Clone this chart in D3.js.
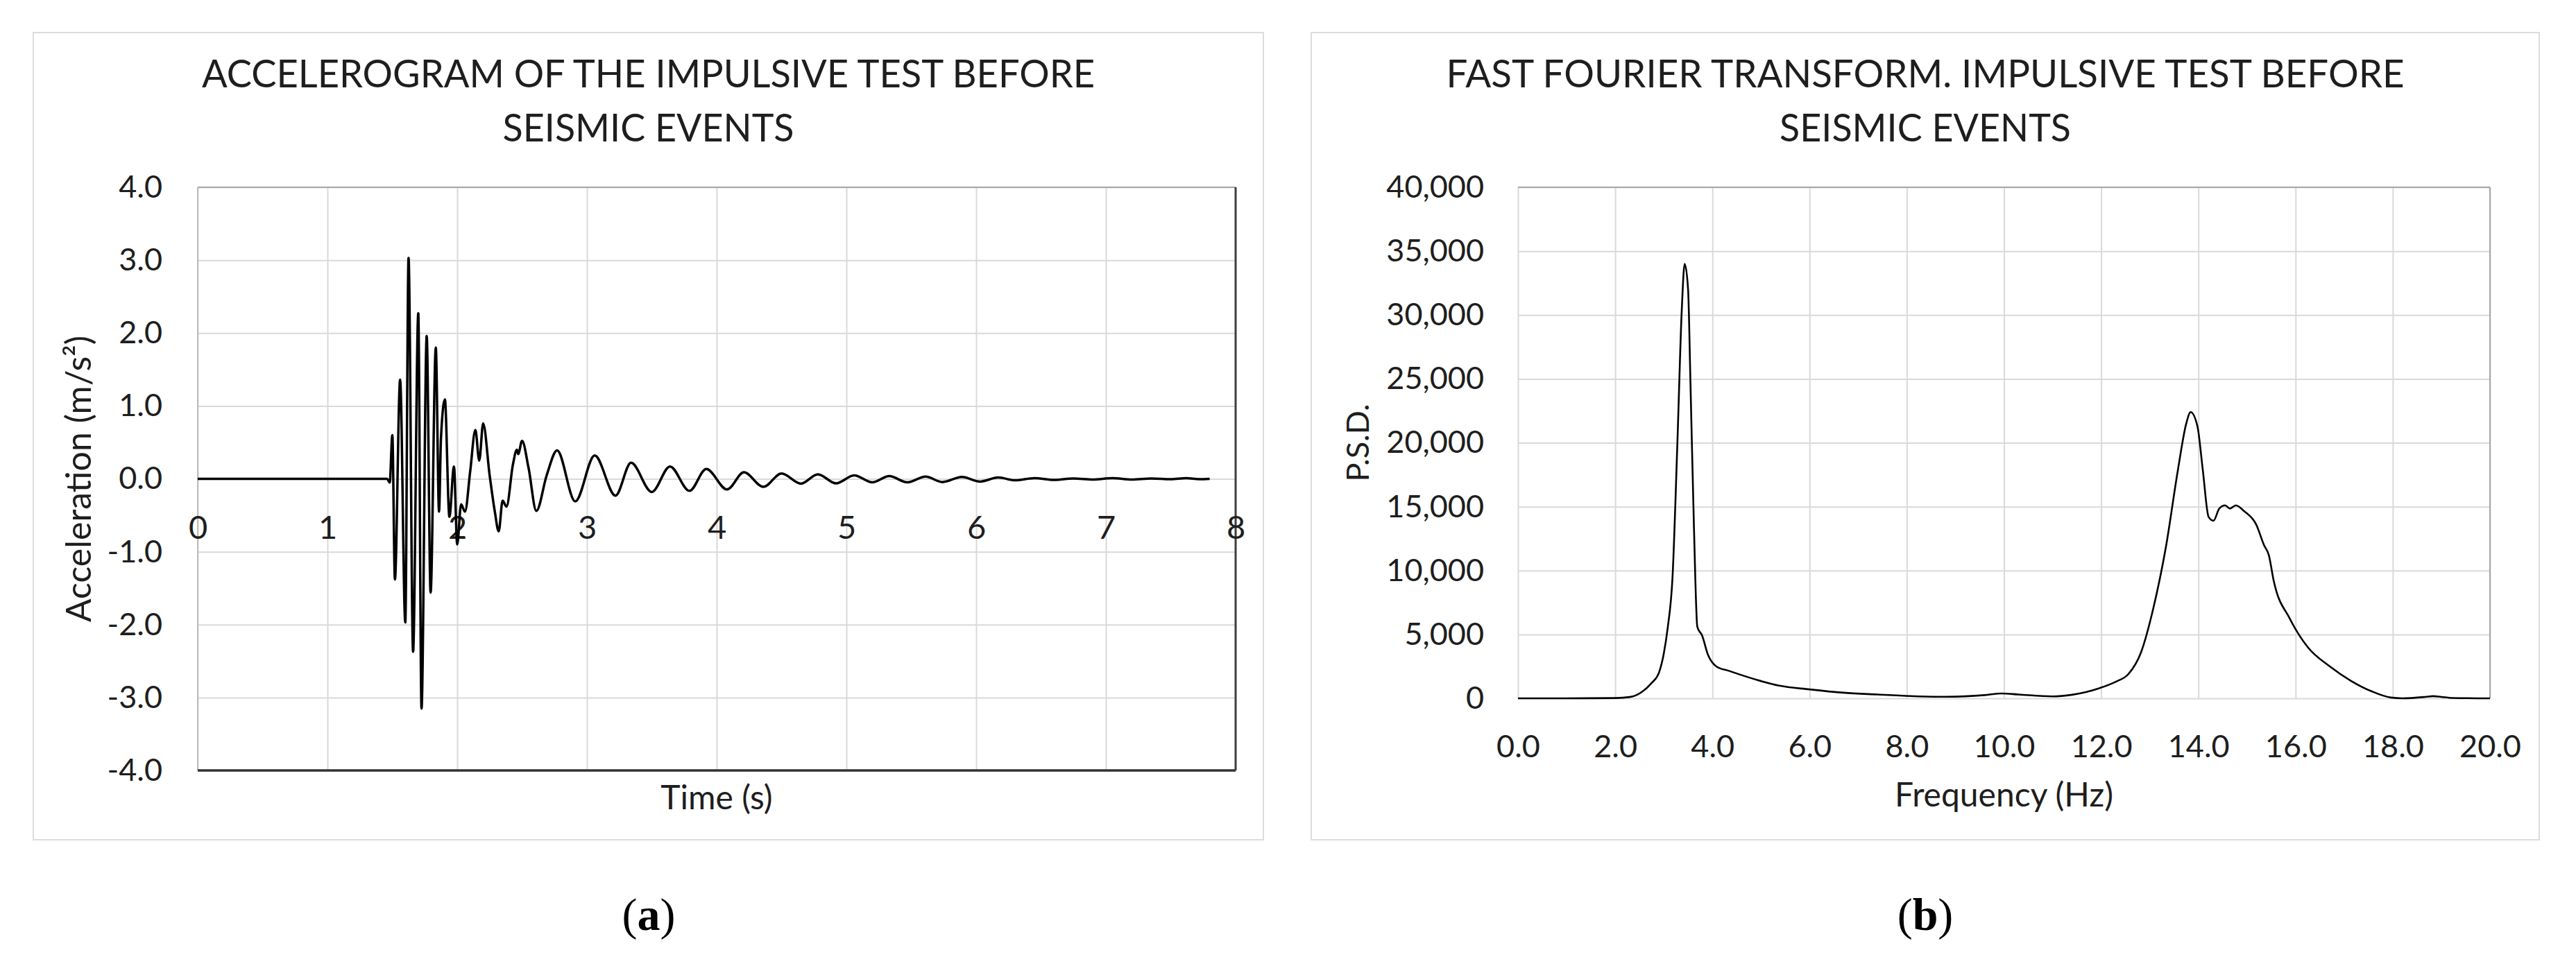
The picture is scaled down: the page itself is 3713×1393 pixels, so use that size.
<!DOCTYPE html>
<html>
<head>
<meta charset="utf-8">
<script src="https://cdn.jsdelivr.net/npm/d3@7"></script>
<style>
  body { margin: 0; background: #fff; }
  svg text { font-family: Lato, "Open Sans", "Noto Sans", sans-serif; fill: #1e1e1e; }
</style>
</head>
<body>
<svg id="chart" width="3713" height="1393"></svg>
<script>
// ---------------- DATA ----------------
// (a) Accelerogram: time (s) and acceleration (m/s^2)
const accelTime = [0, 1.46, 1.48, 1.50, 1.52, 1.56, 1.60, 1.625, 1.66, 1.70, 1.725, 1.765, 1.795, 1.835, 1.86, 1.875, 1.905, 1.94, 1.975, 2.00, 2.03, 2.06, 2.10, 2.14, 2.17, 2.20, 2.25, 2.29, 2.32, 2.35, 2.38, 2.43, 2.46, 2.47, 2.50, 2.55, 2.61, 2.69, 2.77, 2.91, 3.06, 3.22, 3.34, 3.50, 3.64, 3.79, 3.92, 4.08, 4.21, 4.36, 4.50, 4.65, 4.78, 4.92, 5.06, 5.20, 5.33, 5.47, 5.61, 5.74, 5.89, 6.03, 6.17, 6.30, 6.45, 6.60, 6.75, 6.90, 7.05, 7.20, 7.35, 7.50, 7.62, 7.72, 7.80];
const accelValue = [0, 0, -0.05, 0.60, -1.38, 1.36, -1.97, 3.03, -2.37, 2.27, -3.15, 1.96, -1.56, 1.80, -0.45, 0.56, 1.09, -0.52, 0.17, -0.90, -0.35, -0.45, 0.10, 0.67, 0.25, 0.76, 0.05, -0.45, -0.72, -0.30, -0.38, 0.20, 0.40, 0.34, 0.52, 0.15, -0.44, 0.05, 0.39, -0.31, 0.32, -0.23, 0.22, -0.18, 0.17, -0.165, 0.135, -0.146, 0.09, -0.11, 0.073, -0.066, 0.062, -0.062, 0.048, -0.048, 0.037, -0.048, 0.03, -0.044, 0.026, -0.037, 0.018, -0.02, 0.01, -0.015, 0.005, -0.01, 0.01, -0.01, 0.005, -0.005, 0.01, -0.005, 0.0];

// (b) FFT: frequency (Hz) and P.S.D.
const fftFreq = [0, 1.0, 2.0, 2.3, 2.55, 2.75, 2.9, 3.0, 3.08, 3.18, 3.28, 3.37, 3.43, 3.50, 3.55, 3.62, 3.69, 3.79, 3.91, 4.08, 4.34, 5.0, 5.36, 6.0, 6.7, 7.4, 8.08, 8.8, 9.6, 9.95, 10.3, 11.0, 11.4, 11.96, 12.3, 12.56, 12.82, 13.07, 13.33, 13.58, 13.75, 13.84, 13.98, 14.09, 14.21, 14.31, 14.43, 14.55, 14.65, 14.77, 14.94, 15.19, 15.35, 15.45, 15.55, 15.88, 16.26, 16.70, 17.14, 17.57, 17.96, 18.2, 18.67, 18.83, 19.0, 19.22, 20.0];
const fftPsd = [0, 0, 20, 100, 500, 1200, 2000, 3500, 5500, 9500, 20000, 30400, 34000, 32000, 24500, 13500, 5600, 4900, 3400, 2500, 2150, 1350, 1000, 700, 440, 300, 180, 120, 250, 380, 300, 150, 280, 790, 1300, 1900, 3600, 7000, 11800, 17900, 21500, 22400, 21300, 17900, 14200, 13900, 14850, 15100, 14850, 15100, 14650, 13600, 12000, 11200, 9200, 6250, 3960, 2510, 1370, 540, 60, 0, 110, 170, 110, 30, 0];

// ticks and labels
const accelXTicks = [0, 1, 2, 3, 4, 5, 6, 7, 8];
const accelYTicks = [-4, -3, -2, -1, 0, 1, 2, 3, 4];
const fftXTicks = [0, 2, 4, 6, 8, 10, 12, 14, 16, 18, 20];
const fftYTicks = [0, 5000, 10000, 15000, 20000, 25000, 30000, 35000, 40000];
const titleA = ["ACCELEROGRAM OF THE IMPULSIVE TEST BEFORE", "SEISMIC EVENTS"];
const titleB = ["FAST FOURIER TRANSFORM. IMPULSIVE TEST BEFORE", "SEISMIC EVENTS"];
const xLabelA = "Time (s)";
const yLabelA = "Acceleration (m/s²)";
const xLabelB = "Frequency (Hz)";
const yLabelB = "P.S.D.";
const captions = ["a", "b"];

// ---------------- DRAW ----------------
const svg = d3.select("#chart");
const GRID = "#d9d9d9";
const TICK_FS = 45;

function panel(x0, x1) {
  svg.append("rect").attr("x", x0).attr("y", 47).attr("width", x1 - x0).attr("height", 1164)
    .attr("fill", "#fff").attr("stroke", "#dcdcdc").attr("stroke-width", 2);
}
function title(lines, cx, widths) {
  lines.forEach((t, i) => {
    svg.append("text").attr("x", cx).attr("y", 126 + i * 78).attr("text-anchor", "middle")
      .attr("font-size", 57).attr("textLength", widths[i]).attr("lengthAdjust", "spacingAndGlyphs").text(t);
  });
}

// ---- Panel (a) ----
panel(48, 1821);
title(titleA, 934.5, [1287, 420]);
const xA = d3.scaleLinear().domain([0, 8]).range([285, 1781]);
const yA = d3.scaleLinear().domain([-4, 4]).range([1111, 270]);

// gridlines
const gA = svg.append("g");
gA.append("g").attr("transform", `translate(0,${yA(-4)})`)
  .call(d3.axisBottom(xA).tickValues(accelXTicks).tickSize(-(yA(-4) - yA(4))).tickFormat(""))
  .call(g => g.select(".domain").remove())
  .call(g => g.selectAll("line").attr("stroke", GRID).attr("stroke-width", 2));
gA.append("g").attr("transform", `translate(${xA(0)},0)`)
  .call(d3.axisLeft(yA).tickValues(accelYTicks).tickSize(-(xA(8) - xA(0))).tickFormat(""))
  .call(g => g.select(".domain").remove())
  .call(g => g.selectAll("line").attr("stroke", GRID).attr("stroke-width", 2));
// frame
svg.append("line").attr("x1", xA(0)).attr("x2", xA(8)).attr("y1", yA(4)).attr("y2", yA(4)).attr("stroke", "#a8a8a8").attr("stroke-width", 2);
svg.append("line").attr("x1", xA(0)).attr("x2", xA(0)).attr("y1", yA(4)).attr("y2", yA(-4)).attr("stroke", "#bdbdbd").attr("stroke-width", 2);
svg.append("line").attr("x1", xA(8)).attr("x2", xA(8)).attr("y1", yA(4)).attr("y2", yA(-4)).attr("stroke", "#404040").attr("stroke-width", 3);
svg.append("line").attr("x1", xA(0)).attr("x2", xA(8)).attr("y1", yA(-4)).attr("y2", yA(-4)).attr("stroke", "#333").attr("stroke-width", 3.5);

// y axis labels
svg.append("g").attr("transform", `translate(${xA(0)},0)`)
  .call(d3.axisLeft(yA).tickValues(accelYTicks).tickSize(0).tickPadding(51).tickFormat(d => d.toFixed(1)))
  .call(g => g.select(".domain").remove())
  .call(g => g.selectAll("text").attr("font-size", TICK_FS).attr("font-family", null).attr("fill", "#1e1e1e"));
// x axis labels (axis crosses at 0)
svg.append("g").attr("transform", `translate(0,${yA(0)})`)
  .call(d3.axisBottom(xA).tickValues(accelXTicks).tickSize(0).tickFormat(d => String(d)))
  .call(g => g.select(".domain").remove())
  .call(g => g.selectAll("text").attr("y", 70).attr("dy", "0.35em").attr("font-size", TICK_FS + 2).attr("font-family", null).attr("fill", "#1e1e1e"));

// series
const accelData = accelTime.map((t, i) => ({ x: t, y: accelValue[i] }));
svg.append("path").datum(accelData)
  .attr("fill", "none").attr("stroke", "#000").attr("stroke-width", 3.5).attr("stroke-linejoin", "round")
  .attr("d", d3.line().x(d => xA(d.x)).y(d => yA(d.y)).curve(d3.curveMonotoneX));

// axis titles
svg.append("text").attr("x", (xA(0) + xA(8)) / 2).attr("y", 1167).attr("text-anchor", "middle").attr("font-size", 48).text(xLabelA);
svg.append("text").attr("transform", `translate(131,${(yA(4) + yA(-4)) / 2}) rotate(-90)`).attr("text-anchor", "middle").attr("font-size", 50).text(yLabelA);

// ---- Panel (b) ----
panel(1890, 3660);
title(titleB, 2775, [1381, 420]);
const xF = d3.scaleLinear().domain([0, 20]).range([2188, 3589]);
const yF = d3.scaleLinear().domain([0, 40000]).range([1007, 270]);

const gB = svg.append("g");
gB.append("g").attr("transform", `translate(0,${yF(0)})`)
  .call(d3.axisBottom(xF).tickValues(fftXTicks).tickSize(-(yF(0) - yF(40000))).tickFormat(""))
  .call(g => g.select(".domain").remove())
  .call(g => g.selectAll("line").attr("stroke", GRID).attr("stroke-width", 2));
gB.append("g").attr("transform", `translate(${xF(0)},0)`)
  .call(d3.axisLeft(yF).tickValues(fftYTicks).tickSize(-(xF(20) - xF(0))).tickFormat(""))
  .call(g => g.select(".domain").remove())
  .call(g => g.selectAll("line").attr("stroke", GRID).attr("stroke-width", 2));
svg.append("line").attr("x1", xF(0)).attr("x2", xF(20)).attr("y1", yF(40000)).attr("y2", yF(40000)).attr("stroke", "#a8a8a8").attr("stroke-width", 2);
svg.append("line").attr("x1", xF(20)).attr("x2", xF(20)).attr("y1", yF(40000)).attr("y2", yF(0)).attr("stroke", "#a8a8a8").attr("stroke-width", 2);

svg.append("g").attr("transform", `translate(${xF(0)},0)`)
  .call(d3.axisLeft(yF).tickValues(fftYTicks).tickSize(0).tickPadding(49).tickFormat(d3.format(",")))
  .call(g => g.select(".domain").remove())
  .call(g => g.selectAll("text").attr("font-size", TICK_FS).attr("font-family", null).attr("fill", "#1e1e1e"));
svg.append("g").attr("transform", `translate(0,${yF(0)})`)
  .call(d3.axisBottom(xF).tickValues(fftXTicks).tickSize(0).tickFormat(d => d.toFixed(1)))
  .call(g => g.select(".domain").remove())
  .call(g => g.selectAll("text").attr("y", 69).attr("dy", "0.35em").attr("font-size", TICK_FS).attr("font-family", null).attr("fill", "#1e1e1e"));

const fftData = fftFreq.map((f, i) => ({ x: f, y: fftPsd[i] }));
svg.append("path").datum(fftData)
  .attr("fill", "none").attr("stroke", "#000").attr("stroke-width", 2.6).attr("stroke-linejoin", "round")
  .attr("d", d3.line().x(d => xF(d.x)).y(d => yF(d.y)).curve(d3.curveMonotoneX));

svg.append("text").attr("x", (xF(0) + xF(20)) / 2).attr("y", 1163).attr("text-anchor", "middle").attr("font-size", 48).text(xLabelB);
svg.append("text").attr("transform", `translate(1973,${(yF(0) + yF(40000)) / 2}) rotate(-90)`).attr("text-anchor", "middle").attr("font-size", 45).text(yLabelB);

// ---- captions ----
[[935, captions[0]], [2775, captions[1]]].forEach(([cx, c]) => {
  const t = svg.append("text").attr("x", cx).attr("y", 1341).attr("text-anchor", "middle")
    .attr("font-size", 66).style("font-family", "'Liberation Serif', 'DejaVu Serif', serif").style("fill", "#000");
  t.append("tspan").text("(");
  t.append("tspan").attr("font-weight", "bold").text(c);
  t.append("tspan").text(")");
});
</script>
</body>
</html>
